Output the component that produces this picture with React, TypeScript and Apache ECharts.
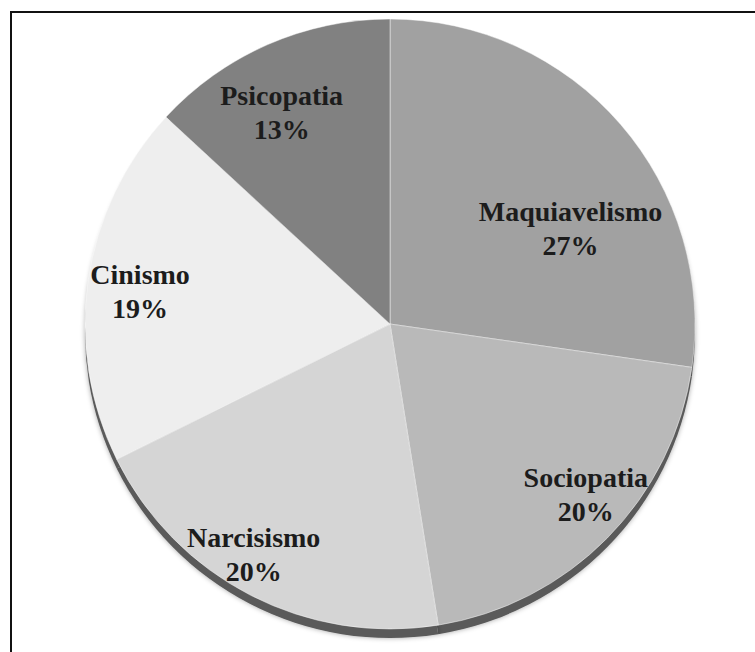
import React, { useEffect, useRef } from "react";
import * as echarts from "echarts";

const categories = ["Maquiavelismo", "Sociopatia", "Narcisismo", "Cinismo", "Psicopatia"];
const values = [27, 20, 20, 19, 13];
const sliceColors = ["#a1a1a1", "#b9b9b9", "#d5d5d5", "#eeeeee", "#818181"];
// label nudges (px) away from the default inside position
const labelDx = [63, 85, -65, -96, -46];
const labelDy = [6, 61, 92, -10, -69];

export default function App() {
  const ref = useRef<HTMLDivElement>(null);
  useEffect(() => {
    if (!ref.current) return;
    const chart = echarts.init(ref.current, null, { renderer: "svg" });
    const data = categories.map((name, i) => ({
      name,
      value: values[i],
      itemStyle: { color: sliceColors[i] },
    }));
    chart.setOption({
      animation: false,
      backgroundColor: "#ffffff",
      graphic: [
        {
          type: "rect",
          z: 100,
          shape: { x: 11, y: 12, width: 800, height: 700 },
          style: { fill: "none", stroke: "#111", lineWidth: 2 },
          silent: true,
        },
      ],
      series: [
        {
          name: "sombra",
          type: "pie",
          silent: true,
          z: 1,
          center: [390, 333],
          radius: 305,
          startAngle: 90,
          clockwise: true,
          label: { show: false },
          labelLine: { show: false },
          itemStyle: {
            color: "#5a5a5a",
            shadowBlur: 5,
            shadowColor: "rgba(0,0,0,0.35)",
          },
          data: categories.map((name, i) => ({ name, value: values[i] })),
        },
        {
          name: "rasgos",
          type: "pie",
          z: 2,
          center: [390, 324],
          radius: 305,
          startAngle: 90,
          clockwise: true,
          itemStyle: {
            borderColor: "rgba(255,255,255,0.45)",
            borderWidth: 1,
          },
          label: {
            show: true,
            position: "inside",
            formatter: "{b}\n{c}%",
            fontFamily: "'Liberation Serif', 'Times New Roman', serif",
            fontWeight: "bold",
            fontSize: 28,
            lineHeight: 34,
            color: "#1c1c1c",
            align: "center",
          },
          labelLine: { show: false },
          labelLayout: (params: any) => ({
            dx: labelDx[params.dataIndex],
            dy: labelDy[params.dataIndex],
          }),
          data,
        },
      ],
    });
    return () => chart.dispose();
  }, []);
  return (
    <div
      ref={ref}
      style={{ position: "absolute", left: 0, top: 0, width: 755, height: 652 }}
    />
  );
}
